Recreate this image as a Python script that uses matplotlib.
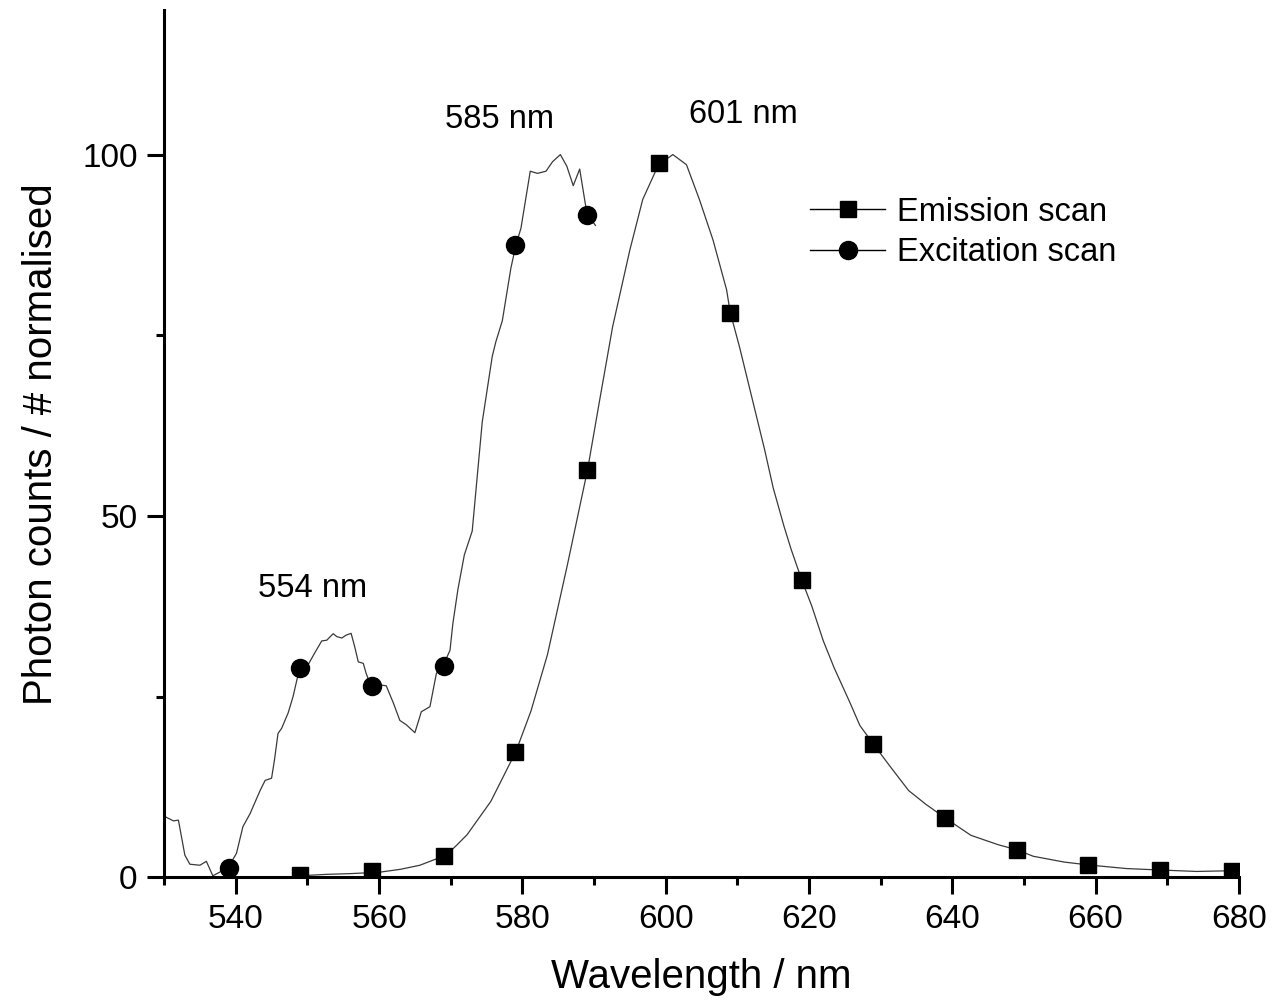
import matplotlib
matplotlib.use('Agg')
import matplotlib.pyplot as plt
from matplotlib.ticker import MultipleLocator

# excitation scan, measured trace
exc_x = [530.2, 531.3, 532.0, 532.9, 533.6, 535.0, 535.9, 536.8, 538.9, 540.1,
         541.0, 542.0, 543.4, 544.1, 545.0, 545.4, 545.9, 546.4, 547.3, 548.0,
         548.9, 550.1, 551.0, 552.0, 552.7, 553.6, 554.1, 554.8, 555.4, 556.1,
         556.6, 557.1, 557.8, 558.2, 558.9, 560.1, 561.0, 562.0, 562.9, 563.8,
         565.0, 565.9, 567.1, 568.0, 568.9, 569.9, 570.3, 571.0, 571.9, 573.0,
         574.4, 575.8, 576.3, 577.2, 578.4, 579.1, 579.8, 581.1, 582.1, 583.3,
         584.2, 585.3, 586.2, 587.1, 588.0, 588.8, 589.1, 590.2]
exc_y = [8.35, 7.8, 7.9, 3.05, 1.8, 1.66, 2.2, 0.2, 1.3, 3.3,
         7.0, 8.8, 12.0, 13.4, 13.7, 16.2, 19.9, 20.6, 22.7, 25.0,
         28.9, 29.4, 31.0, 32.7, 32.8, 33.7, 33.3, 33.1, 33.5, 33.75,
         31.9, 29.8, 29.6, 28.2, 26.4, 26.6, 26.5, 24.1, 21.7, 21.1,
         20.0, 22.9, 23.6, 28.2, 29.2, 31.4, 35.1, 39.8, 44.6, 47.9,
         63.0, 72.1, 74.1, 77.0, 84.3, 87.5, 89.8, 97.7, 97.4, 97.7,
         99.0, 100.0, 98.4, 95.7, 98.0, 93.1, 91.7, 90.2]
exc_mx = [539, 549, 559, 569, 579, 589]
exc_my = [1.3, 28.9, 26.4, 29.2, 87.5, 91.7]

# emission scan, smooth trace
em_x = [549, 552.7, 556, 560.1, 563, 565.7, 567.5, 569.3, 570.8, 572.3,
        575.6, 579.1, 581.2, 583.5, 586.3, 589.1, 590.8, 592.6, 595.0, 596.8,
        599.0, 601.0, 602.9, 604.7, 606.6, 608.5, 609.0, 610.3, 612.0, 613.8,
        615.0, 616.5, 617.5, 619.0, 620.4, 622.0, 623.5, 625.7, 627.1, 629.0,
        631.5, 633.9, 636.3, 639.0, 642.6, 646.4, 649.0, 651.3, 655.6, 659.0,
        664.3, 669.0, 674.1, 679.0]
em_y = [0.2, 0.4, 0.5, 0.7, 1.1, 1.66, 2.35, 3.0, 4.4, 5.9,
        10.5, 17.4, 23.0, 30.8, 43.3, 56.4, 66.1, 76.2, 86.8, 93.8,
        98.6, 100.0, 98.6, 93.8, 88.2, 81.3, 78.2, 73.4, 66.5, 59.2,
        53.9, 48.6, 45.4, 41.1, 37.5, 32.7, 29.0, 24.2, 21.0, 18.4,
        15.1, 12.0, 10.1, 8.2, 5.8, 4.5, 3.8, 2.9, 2.1, 1.7,
        1.2, 1.0, 0.8, 0.9]
em_mx = [549, 559, 569, 579, 589, 599, 609, 619, 629, 639, 649, 659, 669, 679]
em_my = [0.3, 0.8, 2.9, 17.3, 56.4, 98.8, 78.1, 41.1, 18.4, 8.2, 3.8, 1.7, 1.0, 0.9]

peak_labels = ['554 nm', '585 nm', '601 nm']
peak_pos = [(550.7, 40.0), (576.8, 104.8), (610.8, 105.5)]

LINE_C = '#3a3a3a'


def main():
    plot_init()
    plot_data()
    plot_axes()
    fig.savefig('out.png', dpi=100)


def plot_init():
    global fig, ax
    plt.rcParams['font.family'] = ['Liberation Sans', 'DejaVu Sans']
    fig = plt.figure(figsize=(12.72, 10.06))
    ax = fig.add_axes([0.129, 0.128, 0.845, 0.862])


def plot_data():
    # thin traces first, markers on top
    ax.plot(em_x, em_y, color=LINE_C, lw=0.9)
    ax.plot(exc_x, exc_y, color=LINE_C, lw=0.9)
    ax.plot(em_mx, em_my, ls='none', marker='s', ms=11.5, color='k', zorder=3)
    ax.plot(exc_mx, exc_my, ls='none', marker='o', ms=13, color='k', zorder=3)

    # legend proxies: line with marker
    h1, = ax.plot([], [], color='k', lw=1, marker='s', ms=11.5)
    h2, = ax.plot([], [], color='k', lw=1, marker='o', ms=13)
    ax.legend([h1, h2], ['Emission scan', 'Excitation scan'], loc='upper left',
              bbox_to_anchor=(0.601, 0.785), frameon=False, fontsize=23.5,
              handlelength=2.3, handletextpad=0.35, labelspacing=0.3,
              borderpad=0, borderaxespad=0, numpoints=1)

    for txt, (x, y) in zip(peak_labels, peak_pos):
        ax.text(x, y, txt, fontsize=23.5, ha='center', va='center')


def plot_axes():
    ax.set_xlim(530, 680)
    ax.set_ylim(0, 120)
    ax.xaxis.set_major_locator(MultipleLocator(20))
    ax.xaxis.set_minor_locator(MultipleLocator(10))
    ax.set_yticks([0, 50, 100])
    ax.set_yticks([25, 75], minor=True)
    for s in ['top', 'right']:
        ax.spines[s].set_visible(False)
    for s in ['left', 'bottom']:
        ax.spines[s].set_linewidth(2.2)
    ax.tick_params(which='major', direction='out', length=12, width=2.2,
                   labelsize=24, pad=7)
    ax.tick_params(which='minor', direction='out', length=6, width=2.2)
    ax.set_xlabel('Wavelength / nm', fontsize=29, labelpad=17)
    ax.set_ylabel('Photon counts / # normalised', fontsize=29, labelpad=16)


if __name__ == '__main__':
    main()
